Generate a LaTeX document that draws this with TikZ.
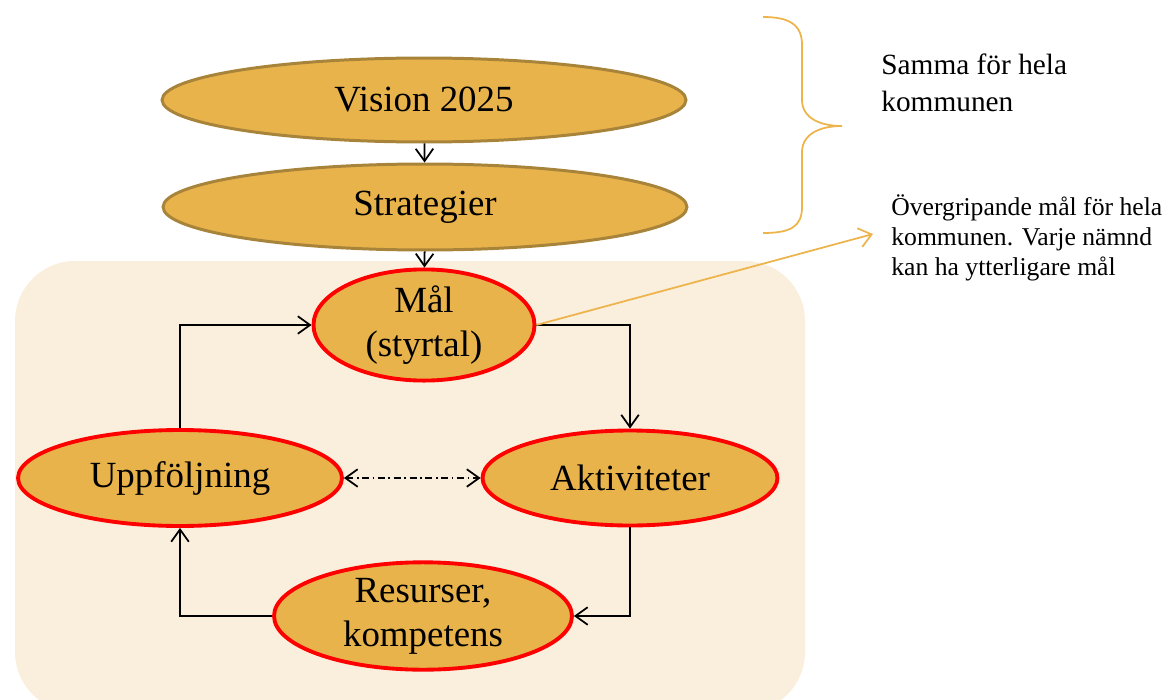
\documentclass[tikz,border=0pt]{standalone}
\usepackage{fontspec}
\setmainfont{Liberation Serif}
\usetikzlibrary{shapes.geometric,arrows.meta}
\definecolor{goldfill}{RGB}{232,179,75}
\definecolor{goldline}{RGB}{168,132,58}
\definecolor{boxbg}{RGB}{250,238,220}
\definecolor{notecol}{RGB}{237,180,76}

\begin{document}
\begin{tikzpicture}[x=0.02cm,y=-0.02cm,
		topoval/.style={ellipse,fill=goldfill,draw=goldline,line width=1.7pt,inner sep=0pt,font=\fontsize{21}{25}\selectfont},
		loopoval/.style={ellipse,fill=goldfill,draw=red,line width=2.2pt,inner sep=0pt,align=center,font=\fontsize{21}{25}\selectfont},
		arr/.style={-{Straight Barb[length=7pt,width=10pt]},line width=1pt},
		notearr/.style={-{Straight Barb[length=7pt,width=11pt]},draw=notecol,line width=1pt},
		notetext/.style={anchor=west,inner sep=0pt,align=left}]
		\useasboundingbox (0,0) rectangle (1175,699);

		% background box
		\fill[boxbg,rounded corners=1.2cm] (15,261) rectangle (805,712);

		% top ovals
		\node[topoval,minimum width=10.48cm,minimum height=1.68cm] (vision) at (424,100) {Vision 2025};
		\node[topoval,minimum width=10.48cm,minimum height=1.72cm] (strat) at (425,207) {Strategier};

		% loop ovals
		\node[loopoval,minimum width=4.42cm,minimum height=1.9cm] (mal) at (424,325) {Mål\\(styrtal)};
		\node[loopoval,minimum width=6.48cm,minimum height=1.92cm] (upp) at (180,478) {Uppföljning};
		\node[loopoval,minimum width=5.9cm,minimum height=1.9cm] (akt) at (630,478) {Aktiviteter};
		\node[loopoval,minimum width=5.96cm,minimum height=1.94cm] (res) at (423,616) {Resurser,\\kompetens};

		% arrows
		\draw[arr] (vision) -- (strat);
		\draw[arr] (strat) -- (mal);
		\draw[arr] (mal.east) -| (akt.north);
		\draw[arr] (akt.south) |- (res.east);
		\draw[arr] (res.west) -| (upp.south);
		\draw[arr] (upp.north) |- (mal.west);
		\draw[{Straight Barb[length=7pt,width=10pt]}-{Straight Barb[length=7pt,width=10pt]},line width=1pt,dash pattern=on 4pt off 2pt on 1pt off 2pt] (upp) -- (akt);

		% brace
		\draw[notecol,line width=1pt] (763,17) .. controls (790,17) and (802,25) .. (802,45) -- (802,100) .. controls (802,118) and (820,126) .. (842,126) .. controls (820,126) and (802,134) .. (802,152) -- (802,207) .. controls (802,227) and (790,233) .. (763,233);

		% notes
		\node[notetext,font=\fontsize{16.7}{21}\selectfont] (same) at (881,83) {Samma för hela\\kommunen};
		\node[notetext,font=\fontsize{14.6}{17}\selectfont] (goal) at (891,238) {Övergripande mål för hela\\kommunen. Varje nämnd\\kan ha ytterligare mål};
		\coordinate (tip) at (873,234);
		\draw[notearr] (mal.east) -- (tip);
	\end{tikzpicture}
\end{document}
